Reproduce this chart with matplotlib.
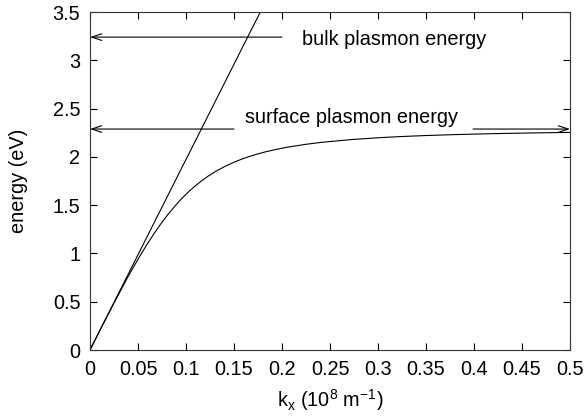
import matplotlib
matplotlib.use('Agg')
import matplotlib.pyplot as plt

plt.rcParams['font.family'] = ['Liberation Sans', 'DejaVu Sans']
plt.rcParams['mathtext.fontset'] = 'custom'
plt.rcParams['mathtext.rm'] = 'Liberation Sans'
plt.rcParams['mathtext.it'] = 'Liberation Sans'

# light line
light_k = [0.0, 0.1774]
light_E = [0.0, 3.5]

# surface plasmon dispersion
sp_k = [0.0, 0.0127, 0.0257, 0.0391, 0.0477, 0.0536, 0.0598, 0.0664, 0.0733,
        0.0809, 0.0893, 0.0938, 0.0987, 0.104, 0.1097, 0.116, 0.123, 0.131,
        0.1403, 0.1513, 0.1577, 0.1648, 0.1729, 0.1821, 0.1929, 0.2056,
        0.2248, 0.241, 0.2733, 0.3039, 0.3235, 0.3477, 0.3783, 0.4188,
        0.4447, 0.4761, 0.515]
sp_E = [0.0, 0.25, 0.5, 0.75, 0.9, 1.0, 1.1, 1.2, 1.3,
        1.4, 1.5, 1.55, 1.6, 1.65, 1.7, 1.75, 1.8, 1.85,
        1.9, 1.95, 1.975, 2.0, 2.025, 2.05, 2.075, 2.1,
        2.13, 2.15, 2.18, 2.2, 2.21, 2.22, 2.23, 2.24,
        2.245, 2.25, 2.255]

bulk_E = 3.24
surf_E = 2.288

xticks = [0, 0.05, 0.1, 0.15, 0.2, 0.25, 0.3, 0.35, 0.4, 0.45, 0.5]
xticklabels = ['0', '0.05', '0.1', '0.15', '0.2', '0.25', '0.3', '0.35', '0.4', '0.45', '0.5']
yticks = [0, 0.5, 1, 1.5, 2, 2.5, 3, 3.5]
yticklabels = ['0', '0.5', '1', '1.5', '2', '2.5', '3', '3.5']

fs = 14.3

fig = plt.figure(figsize=(5.84, 4.17), dpi=100)
ax = fig.add_axes([90/584, 67/417, 480/584, 338/417])

ax.plot(light_k, light_E, color='black', lw=0.8)
ax.plot(sp_k, sp_E, color='black', lw=0.8)

ap = dict(arrowstyle='->,head_length=0.6,head_width=0.2', color='black',
          lw=0.8, shrinkA=0, shrinkB=0, mutation_scale=12)
ax.annotate('', xy=(0, bulk_E), xytext=(0.2, bulk_E), arrowprops=ap)
ax.annotate('', xy=(0, surf_E), xytext=(0.15, surf_E), arrowprops=ap)
ax.annotate('', xy=(0.5, surf_E), xytext=(0.399, surf_E), arrowprops=ap)

ax.text(0.221, 3.158, 'bulk plasmon energy', fontsize=fs, va='baseline')
ax.text(0.161, 2.35, 'surface plasmon energy', fontsize=fs, va='baseline')

ax.set_xlim(0, 0.5)
ax.set_ylim(0, 3.5)
ax.set_xticks(xticks)
ax.set_xticklabels(xticklabels)
ax.set_yticks(yticks)
ax.set_yticklabels(yticklabels)
ax.tick_params(direction='in', top=True, right=True, length=5, width=0.8,
               labelsize=fs, pad=7)
for s in ax.spines.values():
    s.set_linewidth(0.8)
    s.set_color('#333333')

ax.set_xlabel('k$_\\mathregular{x}$ (10$^\\mathregular{8}$ m$^\\mathregular{-1}$)', fontsize=fs, labelpad=6)
ax.set_ylabel('energy (eV)', fontsize=fs, labelpad=18)

fig.savefig('out.png', dpi=100)
